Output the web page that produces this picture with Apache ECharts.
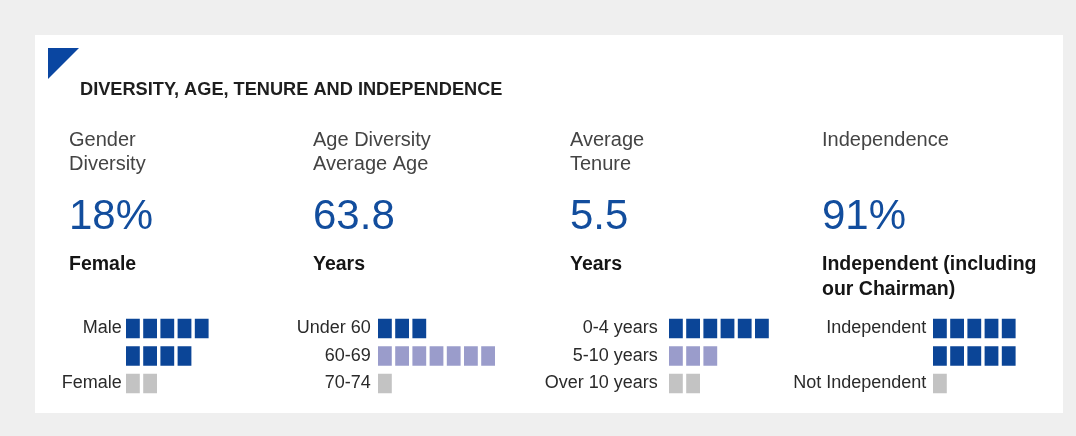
<!DOCTYPE html>
<html>
<head>
<meta charset="utf-8">
<title>Diversity, age, tenure and independence</title>
<script src="https://cdn.jsdelivr.net/npm/echarts@6/dist/echarts.min.js"></script>
<style>
html, body { margin: 0; padding: 0; background: #efefef; }
#chart { width: 1076px; height: 436px; }
</style>
</head>
<body>
<div id="chart"></div>
<script>
// headline figures
const chartTitle = 'DIVERSITY, AGE, TENURE AND INDEPENDENCE'
const headers = ['Gender\nDiversity', 'Age Diversity\nAverage Age', 'Average\nTenure', 'Independence']
const bigValues = ['18%', '63.8', '5.5', '91%']
const subtitles = ['Female', 'Years', 'Years', 'Independent (including\nour Chairman)']

// board members per group, one square = one director
const genderLabels = ['Male', 'Female']
const genderCounts = [9, 2]
const ageLabels = ['Under 60', '60-69', '70-74']
const ageCounts = [3, 7, 1]
const tenureLabels = ['0-4 years', '5-10 years', 'Over 10 years']
const tenureCounts = [6, 3, 2]
const independenceLabels = ['Independent', 'Not Independent']
const independenceCounts = [10, 1]

// colours
const BLUE = '#0b4597'
const LILAC = '#9a9ccb'
const GREY = '#c3c3c3'
const FONT = '"Liberation Sans", Arial, Helvetica, sans-serif'

// layout of the four columns
const colX = [69, 313, 570, 822]
const squareX = [126, 378, 669, 933]
const labelGap = [2.5, 5.5, 9.5, 5]
const PITCH = 17.2
const SQ_W = 13.8
const SQ_H = 19.5
const ROW_H = 27.5
const ROWS_TOP = 314.75

const panels = [
  { labels: genderLabels, counts: genderCounts, colors: [BLUE, GREY], perRow: 5 },
  { labels: ageLabels, counts: ageCounts, colors: [BLUE, LILAC, GREY], perRow: 10 },
  { labels: tenureLabels, counts: tenureCounts, colors: [BLUE, LILAC, GREY], perRow: 10 },
  { labels: independenceLabels, counts: independenceCounts, colors: [BLUE, GREY], perRow: 5 }
]

// split every group into rows of squares
function buildRows (p) {
  const rowNames = []
  const points = []
  p.labels.forEach((label, i) => {
    let left = p.counts[i]
    let first = true
    while (left > 0) {
      const n = Math.min(p.perRow, left)
      for (let k = 0; k < n; k++) {
        points.push({ value: [k + 0.5, rowNames.length], itemStyle: { color: p.colors[i] } })
      }
      rowNames.push(first ? label : '')
      first = false
      left -= n
    }
  })
  const slots = Math.min(p.perRow, Math.max.apply(null, p.counts))
  return { rowNames, points, slots }
}

const grids = []
const xAxes = []
const yAxes = []
const series = []
panels.forEach((p, i) => {
  const r = buildRows(p)
  grids.push({
    left: squareX[i] - (PITCH - SQ_W) / 2,
    top: ROWS_TOP,
    width: r.slots * PITCH,
    height: r.rowNames.length * ROW_H
  })
  xAxes.push({ gridIndex: i, type: 'value', min: 0, max: r.slots, show: false })
  yAxes.push({
    gridIndex: i,
    type: 'category',
    inverse: true,
    data: r.rowNames,
    axisLine: { show: false },
    axisTick: { show: false },
    splitLine: { show: false },
    axisLabel: { margin: labelGap[i], fontSize: 18, color: '#2a2a2a', fontFamily: FONT }
  })
  series.push({
    type: 'scatter',
    xAxisIndex: i,
    yAxisIndex: i,
    symbol: 'rect',
    symbolSize: [SQ_W, SQ_H],
    itemStyle: { opacity: 1 },
    emphasis: { disabled: true },
    data: r.points
  })
})

// text blocks
const titles = [{
  text: chartTitle,
  left: 80,
  top: 79,
  padding: 0,
  textStyle: { fontSize: 18.2, fontWeight: 'bold', color: '#1e1e1e', fontFamily: FONT, lineHeight: 22 }
}]
colX.forEach((x, i) => {
  titles.push({
    text: headers[i], left: x, top: 127.75, padding: 0,
    textStyle: { fontSize: 20, fontWeight: 'normal', color: '#444', fontFamily: FONT, lineHeight: 24.5 }
  })
  titles.push({
    text: bigValues[i], left: x, top: 195.5, padding: 0,
    textStyle: { fontSize: 42, fontWeight: 'normal', color: '#124d9d', fontFamily: FONT, lineHeight: 44 }
  })
  titles.push({
    text: subtitles[i], left: x, top: 252.5, padding: 0,
    textStyle: { fontSize: 19.5, fontWeight: 'bold', color: '#151515', fontFamily: FONT, lineHeight: 25 }
  })
})

const myChart = echarts.init(document.getElementById('chart'))
myChart.setOption({
  animation: false,
  backgroundColor: '#efefef',
  graphic: [
    { type: 'rect', z: -10, shape: { x: 35, y: 35, width: 1028, height: 378 }, style: { fill: '#fff' } },
    { type: 'polygon', shape: { points: [[48, 48], [79, 48], [48, 79]] }, style: { fill: '#0a46a1' } }
  ],
  title: titles,
  grid: grids,
  xAxis: xAxes,
  yAxis: yAxes,
  series: series
})
</script>
</body>
</html>
